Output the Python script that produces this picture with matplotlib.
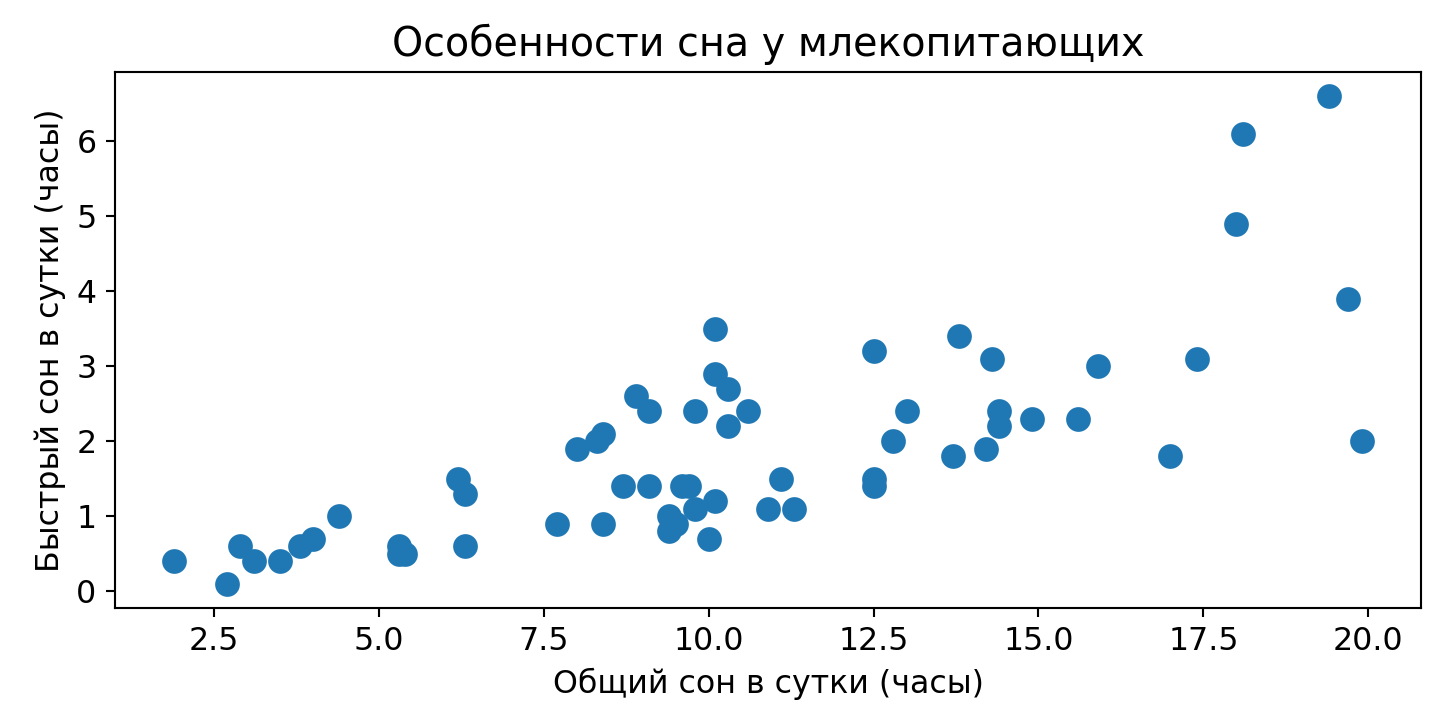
import matplotlib
matplotlib.use("Agg")
import matplotlib.pyplot as plt

# msleep: общий сон и быстрый сон (часы в сутки), только животные с известным REM
sleep_total = [17.0, 14.4, 14.9, 4.0, 14.4, 8.7, 10.1, 5.3, 9.4, 10.0,
               12.5, 10.3, 8.3, 9.1, 17.4, 5.3, 18.0, 19.7, 2.9, 3.1,
               10.1, 10.9, 12.5, 9.8, 1.9, 2.7, 6.2, 6.3, 8.0, 9.5,
               19.4, 10.1, 14.2, 14.3, 12.5, 19.9, 7.7, 8.4, 3.8, 9.7,
               9.4, 10.3, 13.7, 3.5, 11.1, 18.1, 5.4, 13.0, 9.6, 8.4,
               11.3, 10.6, 13.8, 15.9, 12.8, 9.1, 4.4, 15.6, 8.9, 6.3,
               9.8]
sleep_rem = [1.8, 2.4, 2.3, 0.7, 2.2, 1.4, 2.9, 0.6, 0.8, 0.7,
             1.5, 2.2, 2.0, 1.4, 3.1, 0.5, 4.9, 3.9, 0.6, 0.4,
             3.5, 1.1, 3.2, 1.1, 0.4, 0.1, 1.5, 0.6, 1.9, 0.9,
             6.6, 1.2, 1.9, 3.1, 1.4, 2.0, 0.9, 0.9, 0.6, 1.4,
             1.0, 2.7, 1.8, 0.4, 1.5, 6.1, 0.5, 2.4, 1.4, 2.1,
             1.1, 2.4, 3.4, 3.0, 2.0, 2.4, 1.0, 2.3, 2.6, 1.3,
             2.4]

plt.rcParams["font.size"] = 12

dpi = 190
fig, ax = plt.subplots(figsize=(1449 / dpi, 720 / dpi), dpi=dpi)
fig.subplots_adjust(left=0.0794, right=0.9807, top=0.9, bottom=0.1556)

ax.scatter(sleep_total, sleep_rem, s=70, color="C0")
ax.set_title("Особенности сна у млекопитающих", fontsize=15)
ax.set_xlabel("Общий сон в сутки (часы)")
ax.set_ylabel("Быстрый сон в сутки (часы)")

fig.savefig("out.png", dpi=dpi)
